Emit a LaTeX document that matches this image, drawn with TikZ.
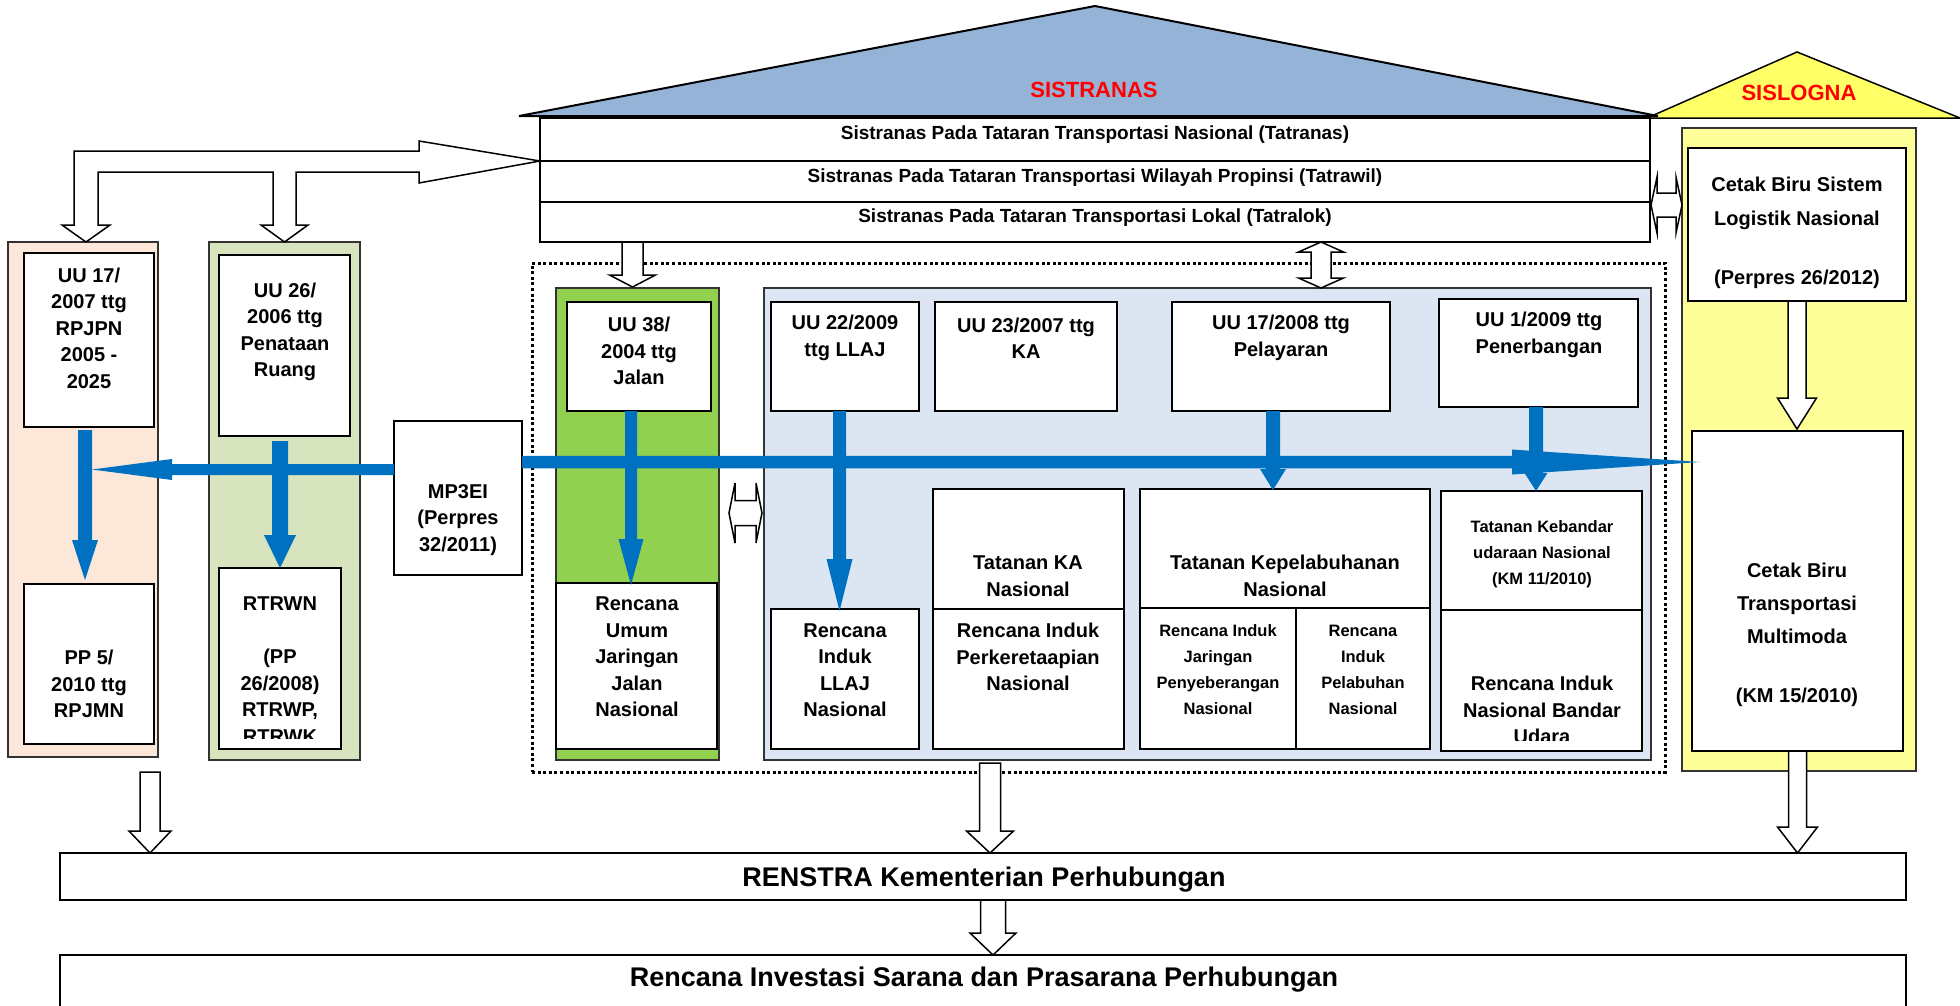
\documentclass[tikz,border=0pt]{standalone}
\usepackage{fontspec}
\setmainfont{Liberation Sans}
\usetikzlibrary{calc}
\definecolor{roofblue}{HTML}{95B3D7}
\definecolor{peachc}{HTML}{FCE7D9}
\definecolor{sagec}{HTML}{D7E4BD}
\definecolor{bgreenc}{HTML}{92D050}
\definecolor{lbluec}{HTML}{DCE6F2}
\definecolor{ylwpc}{HTML}{FFFF99}
\definecolor{ylwtc}{HTML}{FFFF66}
\definecolor{arrowblue}{HTML}{0070C0}
\definecolor{titlered}{HTML}{FF0000}
\newcommand\mkbox[6]{\node[#1, minimum width={(#4)-(#2)}, minimum height={(#5)-(#3)}] (#6) at ({((#2)+(#4))/2},{((#3)+(#5))/2}) {};}
\newcommand\downblock[5]{\draw[hollow] ($(#1)+(-#3,0)$) -- ($(#1 |- #2)+(-#3,-#5)$) -- ($(#1 |- #2)+(-#4,-#5)$) -- (#1 |- #2) -- ($(#1 |- #2)+(#4,-#5)$) -- ($(#1 |- #2)+(#3,-#5)$) -- ($(#1)+(#3,0)$) -- cycle;}
\newcommand\vblue[5]{\fill[arrowblue] ($(#1)+(-#3,0)$) -- ($(#1 |- #2)+(-#3,-#5)$) -- ($(#1 |- #2)+(-#4,-#5)$) -- (#1 |- #2) -- ($(#1 |- #2)+(#4,-#5)$) -- ($(#1 |- #2)+(#3,-#5)$) -- ($(#1)+(#3,0)$) -- cycle;}
\newcommand\hdouble[5]{\draw[hollow] (#1) -- ($(#1)+(#5,-#4)$) -- ($(#1)+(#5,-#3)$) -- ($(#2)+(-#5,-#3)$) -- ($(#2)+(-#5,-#4)$) -- (#2) -- ($(#2)+(-#5,#4)$) -- ($(#2)+(-#5,#3)$) -- ($(#1)+(#5,#3)$) -- ($(#1)+(#5,#4)$) -- cycle;}
\newcommand\vdouble[5]{\draw[hollow] (#1) -- ($(#1)+(#4,#5)$) -- ($(#1)+(#3,#5)$) -- ($(#2)+(#3,-#5)$) -- ($(#2)+(#4,-#5)$) -- (#2) -- ($(#2)+(-#4,-#5)$) -- ($(#2)+(-#3,-#5)$) -- ($(#1)+(-#3,#5)$) -- ($(#1)+(-#4,#5)$) -- cycle;}
\begin{document}
\begin{tikzpicture}[x=1pt,y=-1pt,
  panel/.style={draw=black!80, line width=2pt, inner sep=0pt, outer sep=0pt},
  box/.style={draw=black, fill=white, line width=1.8pt, inner sep=0pt, outer sep=0pt},
  dotbox/.style={draw=black, line width=3pt, dash pattern=on 3pt off 2.6pt, inner sep=0pt, outer sep=0pt},
  txt/.style={font=\fontsize{20}{26.5}\selectfont\bfseries, align=center, inner sep=0pt},
  smalltxt/.style={font=\fontsize{16.5}{26}\selectfont\bfseries, align=center, inner sep=0pt},
  rowtxt/.style={font=\fontsize{19}{23}\selectfont\bfseries, inner sep=0pt},
  bigtxt/.style={font=\fontsize{27}{32}\selectfont\bfseries, inner sep=0pt},
  titletxt/.style={font=\fontsize{22}{26}\selectfont\bfseries, text=titlered, inner sep=0pt},
  hollow/.style={draw=black, fill=white, line width=1.5pt, line join=miter}
]
\useasboundingbox (0,0) rectangle (1960,1005);
\fill[white] (0,0) rectangle (1960,1005);

% roofs
\draw[fill=ylwtc, line width=1.5pt] (1647,118) -- (1797,52) -- (1960,118) -- cycle;
\draw[fill=roofblue, line width=2pt] (519,116) -- (1095,6) -- (1658,116) -- cycle;

% panels
\mkbox{panel, fill=peachc}{8}{242}{158}{757}{peachp}
\mkbox{panel, fill=sagec}{209}{242}{360}{760}{sagep}
\mkbox{panel, fill=bgreenc}{556}{288}{719}{760}{greenp}
\mkbox{panel, fill=lbluec}{764}{288}{1651}{760}{bluep}
\mkbox{panel, fill=ylwpc}{1682}{128}{1916}{771}{ylwp}
\mkbox{dotbox}{532}{263}{1665}{772}{dots}

% boxes
\mkbox{box}{540}{118}{1650}{161}{tatranas}
\mkbox{box}{540}{161}{1650}{202}{tatrawil}
\mkbox{box}{540}{202}{1650}{242}{tatralok}
\mkbox{box}{24}{253}{154}{427}{uu17}
\mkbox{box}{24}{584}{154}{744}{pp5}
\mkbox{box}{219}{255}{350}{436}{uu26}
\mkbox{box}{219}{568}{341}{749}{rtrwn}
\mkbox{box}{394}{421}{522}{575}{mp3ei}
\mkbox{box}{567}{302}{711}{411}{uu38}
\mkbox{box}{556}{583}{717}{749}{rumum}
\mkbox{box}{771}{302}{919}{411}{uu22}
\mkbox{box}{935}{302}{1117}{411}{uu23}
\mkbox{box}{771}{609}{919}{749}{llaj}
\mkbox{box}{933}{489}{1124}{609}{tka}
\mkbox{box}{933}{609}{1124}{749}{rika}
\mkbox{box}{1172}{302}{1390}{411}{uu17b}
\mkbox{box}{1439}{299}{1638}{407}{uu1}
\mkbox{box}{1140}{489}{1430}{608}{tkp}
\mkbox{box}{1140}{608}{1296}{749}{rijp}
\mkbox{box}{1296}{608}{1430}{749}{ripel}
\mkbox{box}{1441}{491}{1642}{610}{tkb}
\mkbox{box}{1441}{610}{1642}{751}{rinbu}
\mkbox{box}{1688}{148}{1906}{301}{cbs}
\mkbox{box}{1692}{431}{1903}{751}{cbt}
\mkbox{box}{60}{853}{1906}{900}{renstra}
\mkbox{box}{60}{955}{1906}{1015}{rinv}

% texts
\node[titletxt] (sistranast) at (1094,90) {SISTRANAS};
\node[titletxt] (sislognat) at (1799,93) {SISLOGNA};
\node[rowtxt] (tatranast) at (1095,135) {Sistranas Pada Tataran Transportasi Nasional (Tatranas)};
\node[rowtxt] (tatrawilt) at (1095,178) {Sistranas Pada Tataran Transportasi Wilayah Propinsi (Tatrawil)};
\node[rowtxt] (tatralokt) at (1095,218) {Sistranas Pada Tataran Transportasi Lokal (Tatralok)};
\node[txt] (uu17t) at (89,328) {UU 17/\\2007 ttg\\RPJPN\\2005 -\\2025};
\node[txt] (pp5t) at (89,684) {PP 5/\\2010 ttg\\RPJMN};
\node[txt] (uu26t) at (285,332) {UU 26/\\2006 ttg\\Penataan\\Ruang};
\begin{scope}
\clip (219,568) rectangle (341,738);
\node[txt] (rtrwnt) at (280,670) {RTRWN\\~\\(PP\\26/2008)\\RTRWP,\\RTRWK};
\end{scope}
\node[txt] (mp3eit) at (458,520) {MP3EI\\(Perpres\\32/2011)};
\node[txt] (uu38t) at (639,351) {UU 38/\\2004 ttg\\Jalan};
\node[txt] (rumumt) at (637,657) {Rencana\\Umum\\Jaringan\\Jalan\\Nasional};
\node[txt] (uu22t) at (845,338) {UU 22/2009\\ttg LLAJ};
\node[txt] (uu23t) at (1026,338) {UU 23/2007 ttg\\KA};
\node[txt] (llajt) at (845,670) {Rencana\\Induk\\LLAJ\\Nasional};
\node[txt] (tkat) at (1028,576) {Tatanan KA\\Nasional};
\node[txt] (rikat) at (1028,657) {Rencana Induk\\Perkeretaapian\\Nasional};
\node[txt] (uu17bt) at (1281,338) {UU 17/2008 ttg\\Pelayaran};
\node[txt] (uu1t) at (1539,335) {UU 1/2009 ttg\\Penerbangan};
\node[txt] (tkpt) at (1285,576) {Tatanan Kepelabuhanan\\Nasional};
\node[smalltxt] (rijpt) at (1218,670) {Rencana Induk\\Jaringan\\Penyeberangan\\Nasional};
\node[smalltxt] (ripelt) at (1363,670) {Rencana\\Induk\\Pelabuhan\\Nasional};
\node[smalltxt] (tkbt) at (1542,554) {Tatanan Kebandar\\udaraan Nasional\\(KM 11/2010)};
\begin{scope}
\clip (1441,610) rectangle (1642,740);
\node[txt] (rinbut) at (1542,710) {Rencana Induk\\Nasional Bandar\\Udara};
\end{scope}
\node[txt, font=\fontsize{20}{34}\selectfont\bfseries] (cbst) at (1797,233) {Cetak Biru Sistem\\Logistik Nasional\\[24.5pt](Perpres 26/2012)};
\node[txt, font=\fontsize{20}{33}\selectfont\bfseries] (cbtt) at (1797,635) {Cetak Biru\\Transportasi\\Multimoda\\[26pt](KM 15/2010)};
\node[bigtxt] (renstrat) at (984,880) {RENSTRA Kementerian Perhubungan};
\node[bigtxt] (rinvt) at (984,980) {Rencana Investasi Sarana dan Prasarana Perhubungan};

% blue arrows
\coordinate (rs) at ([yshift=36pt]mp3ei.east);
\coordinate (rtip) at (1700,462);
\fill[arrowblue] ($(rs)+(0,-6.25)$) -- ($(rtip)+(-188,-6.25)$) -- ($(rtip)+(-188,-12.5)$) -- (rtip) -- ($(rtip)+(-188,12.5)$) -- ($(rtip)+(-188,6.25)$) -- ($(rs)+(0,6.25)$) -- cycle;
\coordinate (ls) at ([yshift=28.5pt]mp3ei.west);
\coordinate (ltip) at (92,469.5);
\fill[arrowblue] ($(ls)+(0,-5.5)$) -- ($(ltip)+(80,-5.5)$) -- ($(ltip)+(80,-10.5)$) -- (ltip) -- ($(ltip)+(80,10.5)$) -- ($(ltip)+(80,5.5)$) -- ($(ls)+(0,5.5)$) -- cycle;
\coordinate (p1s) at ($(uu17.south)+(-4,3)$);
\coordinate (p1e) at ($(pp5.north)+(-4,-4)$);
\vblue{p1s}{p1e}{7}{13}{40}
\coordinate (p2s) at ($(uu26.south)+(-4.5,5)$);
\coordinate (p2e) at (rtrwn.north);
\vblue{p2s}{p2e}{8}{16}{33}
\coordinate (p3s) at ($(uu38.south)+(-8,0)$);
\coordinate (p3e) at ($(rumum.north)+(0,2)$);
\vblue{p3s}{p3e}{6}{12.5}{46}
\coordinate (p4s) at ($(uu22.south)+(-5.5,0)$);
\coordinate (p4e) at ($(llaj.north)+(0,2)$);
\vblue{p4s}{p4e}{6.5}{13}{52}
\coordinate (p5s) at ($(uu17b.south)+(-8,0)$);
\coordinate (p5e) at ($(tkp.north)+(0,1)$);
\vblue{p5s}{p5e}{7}{13}{21}
\coordinate (p6s) at ($(uu1.south)+(-2.5,0)$);
\coordinate (p6e) at (tkb.north);
\vblue{p6s}{p6e}{7}{11.5}{18}

% hollow arrows
\draw[hollow] (74,151) -- (419,151) -- (419,141) -- (tatrawil.north west) -- (419,183) -- (419,172) -- (296,172) -- (296,225) -- (308,225) -- (sagep.north) -- (261,225) -- (273,225) -- (273,172) -- (98,172) -- (98,225) -- (110,225) -- ($(peachp.north)+(3,0)$) -- (62,225) -- (74,225) -- cycle;

\coordinate (a1s) at ($(tatralok.south -| greenp.north)+(-5,0)$);
\coordinate (a1e) at ($(greenp.north)+(-5,-1)$);
\downblock{a1s}{a1e}{10.5}{23}{12}
\coordinate (b1s) at (150,772);
\coordinate (b1e) at (b1s |- renstra.north);
\downblock{b1s}{b1e}{10}{21}{22}
\coordinate (b2s) at (990,763);
\coordinate (b2e) at (b2s |- renstra.north);
\downblock{b2s}{b2e}{10.5}{23.5}{22}
\coordinate (b3e) at (cbt.south |- renstra.north);
\downblock{cbt.south}{b3e}{9}{20}{26}
\coordinate (c1e) at ($(cbt.north)+(0,-2)$);
\downblock{cbs.south}{c1e}{9}{19.5}{31}
\coordinate (f1s) at ($(renstra.south)+(10,0)$);
\coordinate (f1e) at (f1s |- rinv.north);
\downblock{f1s}{f1e}{12.5}{23}{22}

\coordinate (d1a) at (729,513);
\coordinate (d1b) at (762,513);
\hdouble{d1a}{d1b}{12.5}{30}{6}
\coordinate (d2a) at (1651,205);
\coordinate (d2b) at (ylwp.west |- d2a);
\hdouble{d2a}{d2b}{12}{28}{6}
\coordinate (d3a) at (tatralok.south -| 1321,0);
\coordinate (d3b) at (bluep.north -| d3a);
\vdouble{d3a}{d3b}{10}{22.5}{10}
\end{tikzpicture}
\end{document}
